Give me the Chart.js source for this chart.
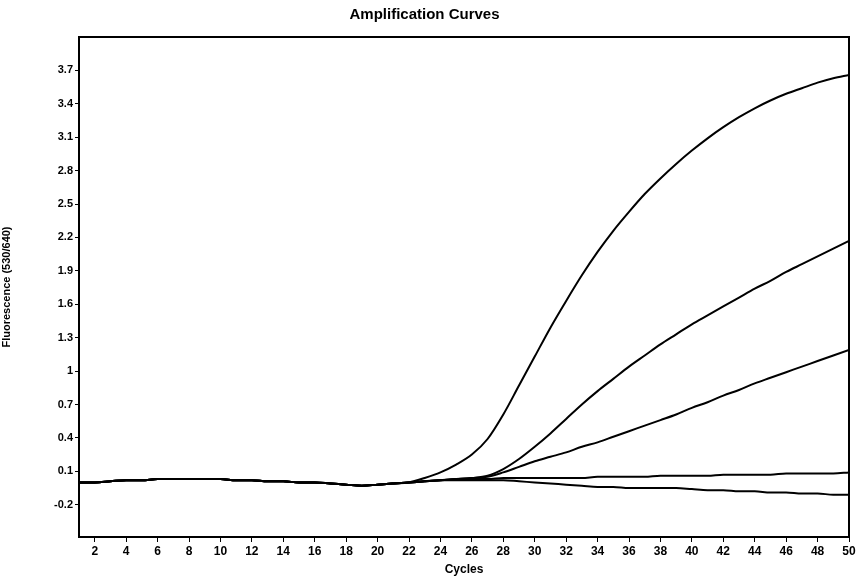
<!DOCTYPE html>
<html>
<head>
<meta charset="utf-8">
<title>Amplification Curves</title>
<script src="https://cdn.jsdelivr.net/npm/chart.js@4.4.1/dist/chart.umd.min.js"></script>
<style>
    html, body { margin: 0; padding: 0; background: #fff; }
    #wrap { width: 859px; height: 579px; }
</style>
</head>
<body>
<div id="wrap"><canvas id="ampChart" width="859" height="579"></canvas></div>
<script>
// cycles and tick labels
const cycles = [1, 2, 3, 4, 5, 6, 7, 8, 9, 10, 11, 12, 13, 14, 15, 16, 17, 18, 19, 20,
    21, 22, 23, 24, 25, 26, 27, 28, 29, 30, 31, 32, 33, 34, 35, 36, 37, 38, 39, 40,
    41, 42, 43, 44, 45, 46, 47, 48, 49, 50];
const xTicks = [2, 4, 6, 8, 10, 12, 14, 16, 18, 20, 22, 24, 26, 28, 30, 32, 34, 36, 38, 40, 42, 44, 46, 48, 50];
const yTicks = [-0.2, 0.1, 0.4, 0.7, 1, 1.3, 1.6, 1.9, 2.2, 2.5, 2.8, 3.1, 3.4, 3.7];

// fluorescence per sample
const sampleA = [0.00, 0.00, 0.01, 0.02, 0.02, 0.03, 0.03, 0.03, 0.03, 0.03,
    0.02, 0.02, 0.01, 0.01, 0.00, 0.00, -0.01, -0.02, -0.03, -0.02,
    -0.01, 0.00, 0.04, 0.09, 0.16, 0.25, 0.39, 0.61, 0.87, 1.13,
    1.39, 1.63, 1.86, 2.07, 2.26, 2.43, 2.59, 2.73, 2.86, 2.98,
    3.09, 3.19, 3.28, 3.36, 3.43, 3.49, 3.54, 3.59, 3.63, 3.66];
const sampleB = [0.00, 0.00, 0.01, 0.02, 0.02, 0.03, 0.03, 0.03, 0.03, 0.03,
    0.02, 0.02, 0.01, 0.01, 0.00, 0.00, -0.01, -0.02, -0.03, -0.02,
    -0.01, 0.00, 0.01, 0.02, 0.03, 0.04, 0.06, 0.12, 0.21, 0.32,
    0.44, 0.57, 0.70, 0.82, 0.93, 1.04, 1.14, 1.24, 1.33, 1.42,
    1.50, 1.58, 1.66, 1.74, 1.81, 1.89, 1.96, 2.03, 2.10, 2.17];
const sampleC = [0.00, 0.00, 0.01, 0.02, 0.02, 0.03, 0.03, 0.03, 0.03, 0.03,
    0.02, 0.02, 0.01, 0.01, 0.00, 0.00, -0.01, -0.02, -0.03, -0.02,
    -0.01, 0.00, 0.01, 0.02, 0.03, 0.04, 0.05, 0.09, 0.14, 0.19,
    0.23, 0.27, 0.32, 0.36, 0.41, 0.46, 0.51, 0.56, 0.61, 0.67,
    0.72, 0.78, 0.83, 0.89, 0.94, 0.99, 1.04, 1.09, 1.14, 1.19];
const sampleD = [0.00, 0.00, 0.01, 0.02, 0.02, 0.03, 0.03, 0.03, 0.03, 0.03,
    0.02, 0.02, 0.01, 0.01, 0.00, 0.00, -0.01, -0.02, -0.03, -0.02,
    -0.01, 0.00, 0.01, 0.02, 0.03, 0.03, 0.03, 0.04, 0.04, 0.04,
    0.04, 0.04, 0.04, 0.05, 0.05, 0.05, 0.05, 0.06, 0.06, 0.06,
    0.06, 0.07, 0.07, 0.07, 0.07, 0.08, 0.08, 0.08, 0.08, 0.09];
const sampleE = [0.00, 0.00, 0.01, 0.02, 0.02, 0.03, 0.03, 0.03, 0.03, 0.03,
    0.02, 0.02, 0.01, 0.01, 0.00, 0.00, -0.01, -0.02, -0.03, -0.02,
    -0.01, 0.00, 0.01, 0.02, 0.02, 0.02, 0.02, 0.02, 0.01, 0.00,
    -0.01, -0.02, -0.03, -0.04, -0.04, -0.05, -0.05, -0.05, -0.05, -0.06,
    -0.07, -0.07, -0.08, -0.08, -0.09, -0.09, -0.10, -0.10, -0.11, -0.11];

const FONT = "'Liberation Sans Narrow', 'Liberation Sans', Arial, sans-serif";

function toPoints(values) {
    return cycles.map((c, i) => ({ x: c, y: values[i] }));
}

function makeSet(label, values) {
    return {
        label: label,
        data: toPoints(values),
        borderColor: '#000',
        borderWidth: 2,
        pointRadius: 0,
        fill: false,
        cubicInterpolationMode: 'monotone',
    };
}

// frame round the plot area
const frame = {
    id: 'frame',
    afterDraw(chart) {
        const a = chart.chartArea;
        const ctx = chart.ctx;
        ctx.save();
        ctx.strokeStyle = '#000';
        ctx.lineWidth = 2;
        ctx.strokeRect(a.left, a.top, a.right - a.left, a.bottom - a.top);
        ctx.restore();
    }
};

new Chart(document.getElementById('ampChart'), {
    type: 'line',
    data: {
        datasets: [
            makeSet('A', sampleA),
            makeSet('B', sampleB),
            makeSet('C', sampleC),
            makeSet('D', sampleD),
            makeSet('E', sampleE),
        ],
    },
    options: {
        responsive: false,
        animation: false,
        layout: { padding: { top: 0, right: 10, bottom: 0, left: 0 } },
        scales: {
            x: {
                type: 'linear',
                min: 1,
                max: 50,
                afterBuildTicks: (s) => { s.ticks = xTicks.map(v => ({ value: v })); },
                afterFit: (s) => { s.height = 42; },
                grid: { drawOnChartArea: false, color: '#000', tickLength: 5 },
                border: { color: '#000', width: 2 },
                ticks: { color: '#000', font: { family: FONT, size: 12, weight: 'bold' }, padding: 2, maxRotation: 0, autoSkip: false },
                title: { display: true, text: 'Cycles', color: '#000', font: { family: FONT, size: 12, weight: 'bold' }, padding: { top: 0, bottom: 2 } },
            },
            y: {
                min: -0.49,
                max: 4.0,
                afterBuildTicks: (s) => { s.ticks = yTicks.map(v => ({ value: v })); },
                afterFit: (s) => { s.width = 79; },
                grid: { drawOnChartArea: false, color: '#000', tickLength: 4 },
                border: { color: '#000', width: 2 },
                ticks: {
                    color: '#000',
                    font: { family: FONT, size: 11, weight: 'bold' },
                    padding: 2,
                    autoSkip: false,
                    callback: (v) => String(v),
                },
                title: { display: true, text: 'Fluorescence (530/640)', color: '#000', font: { family: FONT, size: 11, weight: 'bold' }, padding: { top: 0, bottom: 12 } },
            },
        },
        plugins: {
            legend: { display: false },
            tooltip: { enabled: false },
            title: {
                display: true,
                text: 'Amplification Curves',
                color: '#000',
                font: { family: FONT, size: 15, weight: 'bold' },
                padding: { top: 6, bottom: 13 },
            },
        },
    },
    plugins: [frame],
});
</script>
</body>
</html>
